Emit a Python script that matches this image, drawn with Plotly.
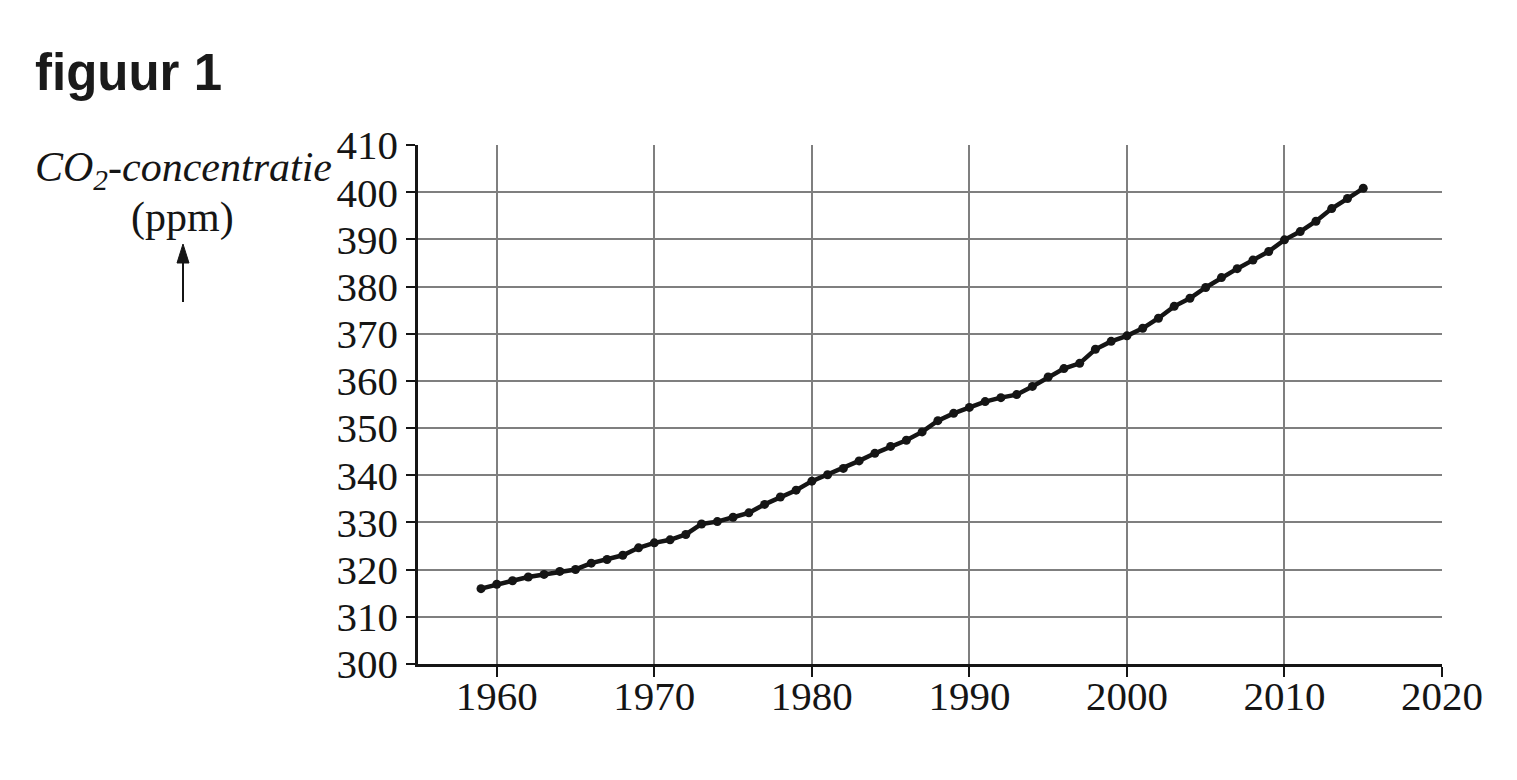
import plotly.graph_objects as go

years = list(range(1959, 2016))
co2_ppm = [315.97, 316.91, 317.64, 318.45, 318.99, 319.62, 320.04, 321.38, 322.16, 323.04,
           324.62, 325.68, 326.32, 327.45, 329.68, 330.18, 331.11, 332.04, 333.83, 335.40,
           336.84, 338.75, 340.11, 341.45, 343.05, 344.65, 346.12, 347.42, 349.19, 351.57,
           353.12, 354.39, 355.61, 356.45, 357.10, 358.83, 360.82, 362.61, 363.73, 366.70,
           368.38, 369.55, 371.14, 373.28, 375.80, 377.52, 379.80, 381.90, 383.79, 385.60,
           387.43, 389.90, 391.65, 393.85, 396.52, 398.65, 400.83]
x_ticks = [1960, 1970, 1980, 1990, 2000, 2010, 2020]
y_ticks = list(range(300, 411, 10))

W, H = 1517, 780
OFF = 8  # page body margin
# target plot box in screen pixels: left 418, right 1442, top 145, bottom 664
L, T = 418 - OFF, 145 - OFF
R = W + OFF - 1442
B = H + OFF - 664
pw, ph = W - L - R, H - T - B

def px(x):
    return (x - OFF - L) / pw

def py(y):
    return (H + OFF - B - y) / ph

serif = "Liberation Serif, Times New Roman, serif"
ink = "#151515"

fig = go.Figure()
fig.add_trace(go.Scatter(
    x=years, y=co2_ppm, mode="lines+markers",
    line=dict(color=ink, width=4.5),
    marker=dict(color=ink, size=9),
    hoverinfo="x+y", showlegend=False,
))

ax_x, tip_y, base_y, tail_y = 183, 244, 263, 302
fig.add_shape(type="line", xref="paper", yref="paper",
              x0=px(ax_x), x1=px(ax_x), y0=py(tail_y), y1=py(base_y - 2),
              line=dict(color=ink, width=2))
fig.add_shape(type="path", xref="paper", yref="paper",
              path=f"M {px(ax_x - 6)} {py(base_y)} L {px(ax_x)} {py(tip_y)} L {px(ax_x + 6)} {py(base_y)} Z",
              fillcolor=ink, line=dict(color=ink, width=1))

fig.update_layout(
    width=W, height=H,
    margin=dict(l=L, r=R, t=T, b=B),
    paper_bgcolor="white", plot_bgcolor="white",
    title=dict(text="<b>figuur 1</b>", x=(35 - OFF) / W, xanchor="left", xref="container",
               y=1 - (72 - OFF) / H, yanchor="middle", yref="container",
               font=dict(family="Liberation Sans, Arial, sans-serif", size=51, color="#1a1a1a")),
    xaxis=dict(range=[1955, 2020], tickvals=x_ticks, ticktext=[str(v) for v in x_ticks],
               showgrid=True, gridcolor="#7f7f7f", gridwidth=1.6,
               showline=True, linecolor=ink, linewidth=2.5,
               ticks="outside", ticklen=10, tickwidth=2, tickcolor=ink,
               ticklabelstandoff=-16,
               tickfont=dict(family=serif, size=41, color=ink), zeroline=False),
    yaxis=dict(range=[300, 410], tickvals=y_ticks, ticktext=[str(v) for v in y_ticks],
               showgrid=True, gridcolor="#7f7f7f", gridwidth=1.6,
               showline=True, linecolor=ink, linewidth=2.5,
               ticks="outside", ticklen=9, tickwidth=2, tickcolor=ink,
               tickfont=dict(family=serif, size=41, color=ink), zeroline=False),
    annotations=[
        dict(text="<i>CO<sub>2</sub>-concentratie</i>", xref="paper", yref="paper",
             x=px(183), y=py(170), xanchor="center", yanchor="middle", showarrow=False,
             font=dict(family=serif, size=42, color=ink)),
        dict(text="(ppm)", xref="paper", yref="paper",
             x=px(182), y=py(218), xanchor="center", yanchor="middle", showarrow=False,
             font=dict(family=serif, size=42, color=ink)),
    ],
)

fig.write_html("out.html")
